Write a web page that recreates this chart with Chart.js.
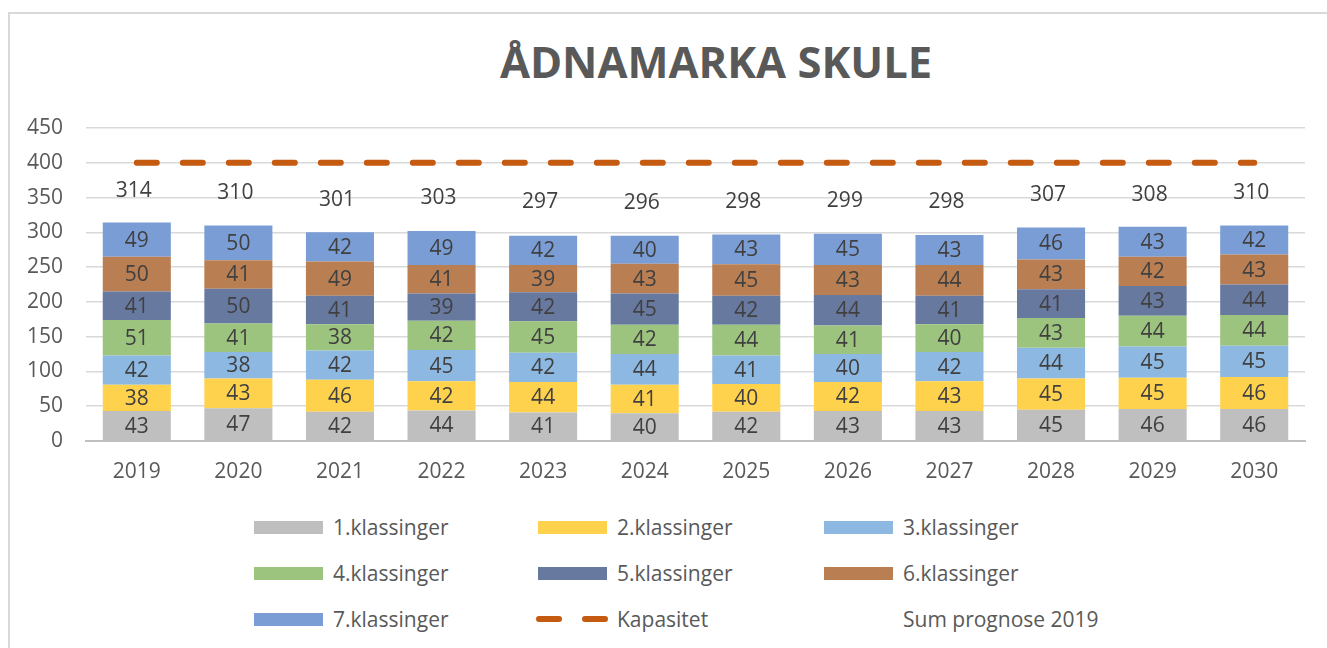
<!DOCTYPE html>
<html>
<head>
<meta charset="utf-8">
<title>Ådnamarka skule</title>
<script src="https://cdn.jsdelivr.net/npm/chart.js@4.4.0/dist/chart.umd.min.js"></script>
<style>
  body { margin: 0; background: #fff; font-family: 'Open Sans', sans-serif; color: #595959; overflow: hidden; }
  #frame { position: absolute; left: 8px; top: 12px; width: 1400px; height: 700px; border: 2px solid #d9d9d9; box-sizing: border-box; }
  #title { position: absolute; left: 416px; width: 600px; top: 35px; text-align: center; font-size: 43.5px; font-weight: 700; line-height: 54px; color: #595959; }
  #wrap { position: absolute; left: 0; top: 0; width: 1327px; height: 501px; }
  #legend { position: absolute; left: 254px; top: 510px; display: grid; grid-template-columns: 284px 286px 300px; grid-auto-rows: 46px; font-size: 21px; }
  .item { display: flex; align-items: center; height: 34px; }
  .box { width: 69px; height: 13px; margin-right: 10px; }
  .dash { width: 69px; height: 13px; margin-right: 10px; position: relative; }
</style>
</head>
<body>
<div id="frame"></div>
<div id="title">ÅDNAMARKA SKULE</div>
<div id="wrap"><canvas id="chart"></canvas></div>
<div id="legend"></div>
<script>
// Data
const years = ['2019', '2020', '2021', '2022', '2023', '2024', '2025', '2026', '2027', '2028', '2029', '2030'];
const klasse1 = [43, 47, 42, 44, 41, 40, 42, 43, 43, 45, 46, 46];
const klasse2 = [38, 43, 46, 42, 44, 41, 40, 42, 43, 45, 45, 46];
const klasse3 = [42, 38, 42, 45, 42, 44, 41, 40, 42, 44, 45, 45];
const klasse4 = [51, 41, 38, 42, 45, 42, 44, 41, 40, 43, 44, 44];
const klasse5 = [41, 50, 41, 39, 42, 45, 42, 44, 41, 41, 43, 44];
const klasse6 = [50, 41, 49, 41, 39, 43, 45, 43, 44, 43, 42, 43];
const klasse7 = [49, 50, 42, 49, 42, 40, 43, 45, 43, 46, 43, 42];
const kapasitet = [400, 400, 400, 400, 400, 400, 400, 400, 400, 400, 400, 400];
const sumPrognose = [314, 310, 301, 303, 297, 296, 298, 299, 298, 307, 308, 310];
const yTicks = [0, 50, 100, 150, 200, 250, 300, 350, 400, 450];

const textColor = '#595959';
const labelColor = '#404040';
const fontFamily = "'Open Sans', sans-serif";

function bar(label, data, color) {
    return { type: 'bar', label: label, data: data, backgroundColor: color, stack: 'elever',
             barPercentage: 0.67, categoryPercentage: 1, order: 2 };
}

const datasets = [
    bar('1.klassinger', klasse1, '#bfbfbf'),
    bar('2.klassinger', klasse2, '#ffd24d'),
    bar('3.klassinger', klasse3, '#8cb8e1'),
    bar('4.klassinger', klasse4, '#9cc47e'),
    bar('5.klassinger', klasse5, '#6879a0'),
    bar('6.klassinger', klasse6, '#b97e52'),
    bar('7.klassinger', klasse7, '#7b9dd6'),
    { type: 'line', label: 'Kapasitet', data: kapasitet, stack: 'kap', borderColor: '#c55a11',
      borderWidth: 6, borderDash: [20, 26], borderCapStyle: 'round', pointRadius: 0, order: 1 },
    { type: 'line', label: 'Sum prognose 2019', data: sumPrognose, stack: 'sum', borderColor: 'transparent',
      borderWidth: 0, pointRadius: 0, order: 0, isSum: true }
];

// Tekst i søylene og summen over
const valueLabels = {
    id: 'valueLabels',
    afterDatasetsDraw(chart) {
        const c = chart.ctx;
        c.save();
        c.font = '21px ' + fontFamily;
        c.fillStyle = labelColor;
        c.textAlign = 'center';
        c.textBaseline = 'middle';
        chart.data.datasets.forEach((ds, i) => {
            const meta = chart.getDatasetMeta(i);
            if (ds.type === 'bar') {
                meta.data.forEach((el, j) => {
                    c.fillText(ds.data[j], el.x, (el.y + el.base) / 2 + 1);
                });
            } else if (ds.isSum) {
                meta.data.forEach((el, j) => {
                    c.fillText(ds.data[j], el.x - 3, el.y - 32);
                });
            }
        });
        c.restore();
    }
};

const ctx = document.getElementById('chart').getContext('2d');
const chart = new Chart(ctx, {
    data: { labels: years, datasets: datasets },
    options: {
        responsive: true,
        maintainAspectRatio: false,
        animation: false,
        layout: { padding: { top: 128, right: 22, left: 0, bottom: 0 } },
        plugins: { legend: { display: false }, tooltip: { enabled: false } },
        scales: {
            x: {
                stacked: true,
                grid: { display: false, drawTicks: false },
                border: { display: true, color: '#bfbfbf', width: 2 },
                ticks: { color: textColor, font: { family: fontFamily, size: 21 }, padding: 18 },
                afterFit: s => { s.height = 60; }
            },
            y: {
                stacked: true,
                min: 0,
                max: 450,
                afterBuildTicks: s => { s.ticks = yTicks.map(v => ({ value: v })); },
                grid: { color: '#d9d9d9', lineWidth: 1.5, drawTicks: false },
                border: { display: false },
                ticks: { color: textColor, font: { family: fontFamily, size: 21 }, padding: 23 },
                afterFit: s => { s.width = 86; }
            }
        }
    },
    plugins: [valueLabels]
});

// Legende i tre kolonner
const legend = document.getElementById('legend');
datasets.forEach(ds => {
    const item = document.createElement('div');
    item.className = 'item';
    const mark = document.createElement('span');
    if (ds.type === 'bar') {
        mark.className = 'box';
        mark.style.background = ds.backgroundColor;
    } else if (!ds.isSum) {
        mark.className = 'dash';
        mark.innerHTML = '<span style="position:absolute;left:-2px;top:3px;width:26px;height:6px;border-radius:3px;background:' + ds.borderColor + '"></span>' +
                         '<span style="position:absolute;left:44px;top:3px;width:26px;height:6px;border-radius:3px;background:' + ds.borderColor + '"></span>';
    } else {
        mark.className = 'box';
    }
    item.appendChild(mark);
    item.appendChild(document.createTextNode(ds.label));
    legend.appendChild(item);
});
</script>
</body>
</html>
